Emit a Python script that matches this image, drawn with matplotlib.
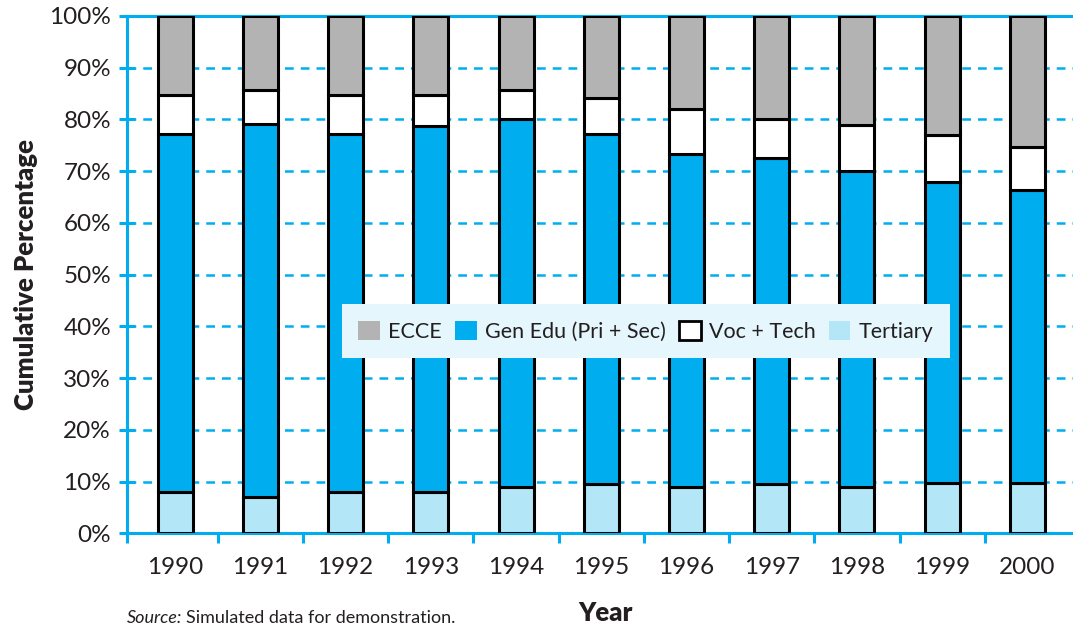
import matplotlib
matplotlib.use("Agg")
import matplotlib.pyplot as plt
import numpy as np
from matplotlib.patches import Patch

# ---- data ----
years = ["1990", "1991", "1992", "1993", "1994", "1995", "1996", "1997", "1998", "1999", "2000"]
tertiary = [8.0, 7.0, 8.0, 8.0, 9.0, 9.5, 9.0, 9.5, 9.0, 9.7, 9.7]
gen_edu = [69.2, 72.2, 69.2, 70.8, 71.1, 67.7, 64.4, 63.1, 61.0, 58.2, 56.6]
voc_tech = [7.5, 6.5, 7.5, 5.9, 5.6, 7.0, 8.7, 7.5, 9.0, 9.0, 8.3]
ecce = [15.3, 14.3, 15.3, 15.3, 14.3, 15.8, 17.9, 19.9, 21.0, 23.1, 25.4]
y_ticks = [0, 10, 20, 30, 40, 50, 60, 70, 80, 90, 100]
series_names = ["ECCE", "Gen Edu (Pri + Sec)", "Voc + Tech", "Tertiary"]

# ---- style ----
FONT = "Lato"
plt.rcParams["font.family"] = [FONT, "DejaVu Sans"]
TXT = "#231f20"
AXBLUE = "#00aeef"
C_ECCE = "#b3b3b3"
C_GEN = "#00aeef"
C_VOC = "#ffffff"
C_TER = "#b3e7f8"

W, H = 1073, 626
fig = plt.figure(figsize=(W / 100, H / 100), dpi=100)
ax = fig.add_axes([127 / W, 1 - 533.3 / H, (W - 127) / W, (533.3 - 16) / H])

x = np.arange(len(years))
bw = 0.41
ter = np.array(tertiary)
gen = np.array(gen_edu)
voc = np.array(voc_tech)
ec = np.array(ecce)

kw = dict(width=bw, edgecolor="black", linewidth=2.2, zorder=3)
ax.bar(x, ter, color=C_TER, **kw)
ax.bar(x, gen, bottom=ter, color=C_GEN, **kw)
ax.bar(x, voc, bottom=ter + gen, color=C_VOC, **kw)
ax.bar(x, ec, bottom=ter + gen + voc, color=C_ECCE, **kw)

ax.set_xlim(-0.565, len(years) - 1 + 0.535)
ax.set_ylim(0, 100)

# grid
for v in y_ticks[1:-1]:
    ax.axhline(v, color=AXBLUE, linewidth=1.8, linestyle=(0, (3.5, 2.8)), zorder=1)

# spines
for s in ["left", "bottom", "top"]:
    ax.spines[s].set_color(AXBLUE)
    ax.spines[s].set_linewidth(2.2)
ax.spines["right"].set_visible(False)

ax.set_yticks(y_ticks)
ax.set_yticklabels([f"{v}%" for v in y_ticks])
ax.tick_params(axis="y", direction="inout", length=11, width=2.2, color=AXBLUE,
               labelsize=17.5, labelcolor=TXT, pad=6)

ax.set_xticks(x)
ax.set_xticklabels(years)
ax.tick_params(axis="x", which="major", length=0, labelsize=17.5, labelcolor=TXT, pad=17)
ax.set_xticks(list(x[:-1] + 0.5) + [-0.565], minor=True)
ax.tick_params(axis="x", which="minor", direction="out", length=7.5, width=2.2, color=AXBLUE)

ax.set_ylabel("Cumulative Percentage", fontsize=18.5, fontweight="heavy", color=TXT, labelpad=8)
fig.text(605 / W, 1 - 613 / H, "Year", ha="center", va="center", fontsize=18.5,
         fontweight="heavy", color=TXT)

# legend
handles = [Patch(facecolor=C_ECCE, edgecolor="none"),
           Patch(facecolor=C_GEN, edgecolor="none"),
           Patch(facecolor=C_VOC, edgecolor="black", linewidth=2.0),
           Patch(facecolor=C_TER, edgecolor="none")]
leg = ax.legend(handles, series_names, loc="center", bbox_to_anchor=(0.5486, 0.391),
                ncol=4, fontsize=15.5, frameon=True, fancybox=False, framealpha=1,
                facecolor="#e5f6fd", edgecolor="none", handlelength=1.0, handleheight=1.0,
                handletextpad=0.4, columnspacing=0.6, borderpad=0.75)
leg.set_zorder(5)
for t in leg.get_texts():
    t.set_color(TXT)

# source note
fig.canvas.draw()
t1 = fig.text(127 / W, 1 - 618 / H, "Source:", fontsize=13, style="italic",
              color=TXT, ha="left", va="center")
fig.canvas.draw()
bb = t1.get_window_extent()
fig.text((bb.x1 + 4) / W, 1 - 618 / H, "Simulated data for demonstration.",
         fontsize=13, color=TXT, ha="left", va="center")

fig.savefig("out.png", dpi=100)
